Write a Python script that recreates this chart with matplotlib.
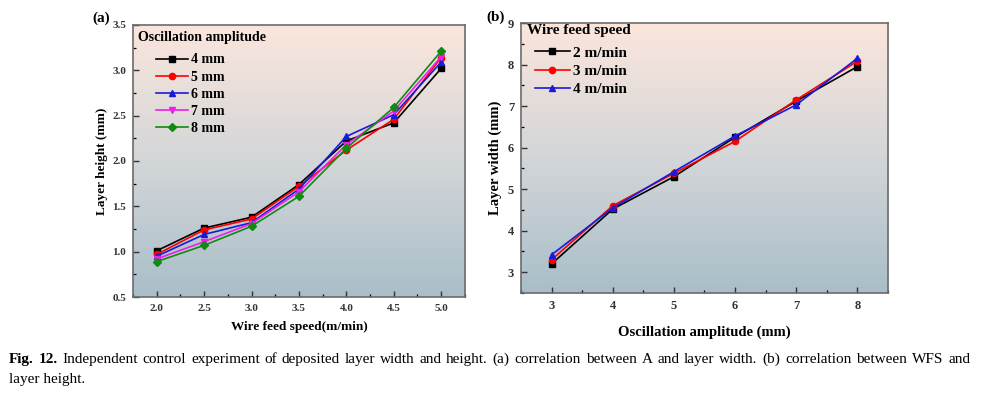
import matplotlib
matplotlib.use("Agg")
import matplotlib.pyplot as plt
import numpy as np
from matplotlib.colors import LinearSegmentedColormap
from matplotlib.ticker import MultipleLocator

# (a) layer height vs wire feed speed, one series per oscillation amplitude
wfs = [2.0, 2.5, 3.0, 3.5, 4.0, 4.5, 5.0]
amp_labels = ["4 mm", "5 mm", "6 mm", "7 mm", "8 mm"]
h_4mm = [1.01, 1.26, 1.38, 1.74, 2.22, 2.42, 3.02]
h_5mm = [0.97, 1.24, 1.36, 1.72, 2.12, 2.46, 3.14]
h_6mm = [0.95, 1.19, 1.32, 1.69, 2.27, 2.51, 3.09]
h_7mm = [0.92, 1.11, 1.31, 1.66, 2.18, 2.55, 3.15]
h_8mm = [0.89, 1.07, 1.28, 1.61, 2.14, 2.59, 3.21]

# (b) layer width vs oscillation amplitude, one series per wire feed speed
amp = [3, 4, 5, 6, 7, 8]
wfs_labels = ["2 m/min", "3 m/min", "4 m/min"]
w_2 = [3.20, 4.52, 5.30, 6.25, 7.12, 7.95]
w_3 = [3.30, 4.60, 5.38, 6.15, 7.15, 8.08]
w_4 = [3.42, 4.55, 5.42, 6.28, 7.03, 8.15]

caption_bold = "Fig. 12."
caption_rest = ("Independent control experiment of deposited layer width and height. "
                "(a) correlation between A and layer width. (b) correlation between WFS and")
caption_line2 = "layer height."

plt.rcParams["font.family"] = ["Liberation Serif", "DejaVu Serif"]
plt.rcParams["font.weight"] = "bold"

bg = LinearSegmentedColormap.from_list("bg", ["#a9bec9", "#d3d6d8", "#fbe6dc"])


def style_axes(ax):
    grad = np.linspace(0, 1, 256).reshape(-1, 1)
    ax.imshow(grad, cmap=bg, aspect="auto", extent=[0, 1, 0, 1],
              transform=ax.transAxes, origin="lower", zorder=0)
    for s in ax.spines.values():
        s.set_color("#6b6b6b")
        s.set_linewidth(1.2)
    ax.tick_params(direction="in", length=4, width=1, labelsize=8,
                   colors="#333333", pad=5)
    ax.tick_params(which="minor", direction="in", length=2, width=0.9)
    for lab in ax.get_xticklabels() + ax.get_yticklabels():
        lab.set_fontweight("bold")


fig = plt.figure(figsize=(9.82, 3.95), dpi=100)
ax1 = fig.add_axes([0.1354, 0.248, 0.338, 0.689])
ax2 = fig.add_axes([0.5305, 0.2582, 0.3737, 0.6835])

mk = dict(markersize=4.5, linewidth=1.2)
ax1.plot(wfs, h_4mm, "-s", color="black", label=amp_labels[0], **mk)
ax1.plot(wfs, h_5mm, "-o", color="red", label=amp_labels[1], **mk)
ax1.plot(wfs, h_6mm, "-^", color="#1a1adb", label=amp_labels[2], **mk)
ax1.plot(wfs, h_7mm, "-v", color="#ee1fe8", label=amp_labels[3], **mk)
ax1.plot(wfs, h_8mm, "-D", color="#118a11", label=amp_labels[4], **mk)
ax1.set_xlim(1.75, 5.25)
ax1.set_ylim(0.5, 3.5)
ax1.xaxis.set_major_locator(MultipleLocator(0.5))
ax1.xaxis.set_minor_locator(MultipleLocator(0.25))
ax1.yaxis.set_major_locator(MultipleLocator(0.5))
ax1.yaxis.set_minor_locator(MultipleLocator(0.25))
ax1.xaxis.set_major_formatter("{x:.1f}")
ax1.yaxis.set_major_formatter("{x:.1f}")
style_axes(ax1)
ax1.set_xlabel("Wire feed speed(m/min)", fontsize=9.5, fontweight="bold", labelpad=6)
ax1.set_ylabel("Layer height (mm)", fontsize=9.5, fontweight="bold", labelpad=3)
ax1.text(0.015, 0.952, "Oscillation amplitude", transform=ax1.transAxes,
         fontsize=10, fontweight="bold", ha="left", va="center")
ax1.legend(loc="upper left", bbox_to_anchor=(0.069, 0.895), frameon=False,
           fontsize=10, handlelength=2.3, handletextpad=0.2,
           labelspacing=0.3, borderpad=0, borderaxespad=0)
ax1.text(-0.07, 1.026, "(a)", transform=ax1.transAxes, fontsize=11,
         fontweight="bold", ha="right", va="center")

ax2.plot(amp, w_2, "-s", color="black", label=wfs_labels[0], **mk)
ax2.plot(amp, w_3, "-o", color="red", label=wfs_labels[1], **mk)
ax2.plot(amp, w_4, "-^", color="#1a1adb", label=wfs_labels[2], **mk)
ax2.set_xlim(2.5, 8.5)
ax2.set_ylim(2.5, 9)
ax2.xaxis.set_major_locator(MultipleLocator(1))
ax2.xaxis.set_minor_locator(MultipleLocator(0.5))
ax2.yaxis.set_major_locator(MultipleLocator(1))
ax2.yaxis.set_minor_locator(MultipleLocator(0.5))
style_axes(ax2)
ax2.tick_params(labelsize=9)
ax2.set_xlabel("Oscillation amplitude (mm)", fontsize=10.5, fontweight="bold", labelpad=10)
ax2.set_ylabel("Layer width (mm)", fontsize=10.5, fontweight="bold", labelpad=4)
ax2.text(0.016, 0.974, "Wire feed speed", transform=ax2.transAxes,
         fontsize=11, fontweight="bold", ha="left", va="center")
ax2.legend(loc="upper left", bbox_to_anchor=(0.038, 0.915), frameon=False,
           fontsize=11, handlelength=2.3, handletextpad=0.2,
           labelspacing=0.3, borderpad=0, borderaxespad=0)
ax2.text(-0.044, 1.02, "(b)", transform=ax2.transAxes, fontsize=11,
         fontweight="bold", ha="right", va="center")

# caption, first line justified between x0 and x1 (pixels)
fig.canvas.draw()
renderer = fig.canvas.get_renderer()
W = fig.bbox.width
x0, x1 = 9, 970
words = [(w, "bold") for w in caption_bold.split()] + \
        [(w, "normal") for w in caption_rest.split()]
arts = []
for w, wt in words:
    t = fig.text(0, 0.091, w, fontsize=11, fontweight=wt, ha="left", va="center")
    arts.append(t)
widths = [a.get_window_extent(renderer).width for a in arts]
gap = (x1 - x0 - sum(widths)) / (len(arts) - 1)
x = x0
for a, wd in zip(arts, widths):
    a.set_x(x / W)
    x += wd + gap
fig.text(x0 / W, 0.038, caption_line2, fontsize=11, fontweight="normal",
         ha="left", va="center")

fig.savefig("out.png", dpi=100, facecolor="white")
